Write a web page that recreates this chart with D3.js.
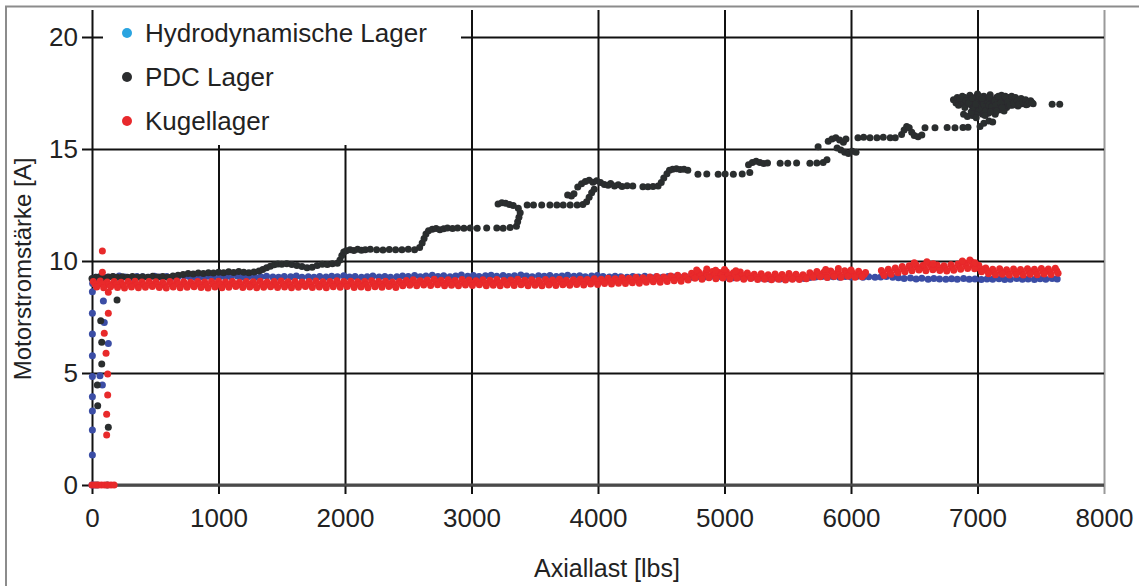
<!DOCTYPE html>
<html>
<head>
<meta charset="utf-8">
<script src="https://cdn.jsdelivr.net/npm/d3@7"></script>
<style>
  html, body { margin: 0; padding: 0; background: #fff; }
  svg { display: block; font-family: "Liberation Sans", Arial, sans-serif; }
</style>
</head>
<body>
<svg id="chart" width="1139" height="586"></svg>
<script>
// Axis ticks
const xTicks = [0, 1000, 2000, 3000, 4000, 5000, 6000, 7000, 8000];
const yTicks = [0, 5, 10, 15, 20];

// Series names and colours (legend colour, marker colour)
const seriesNames = ["Hydrodynamische Lager", "PDC Lager", "Kugellager"];
const legendColors = ["#2aa4e0", "#2b2d2f", "#e8292c"];
const markerColors = ["#3a4da5", "#2b2d2f", "#e8292c"];

// Hydrodynamische Lager: [Axiallast lbs, Motorstrom A]
const hydroPoints = [
  [0,0],[15,0],[3,1.34],[3,2.46],[3,3.30],[3,3.94],[3,4.84],[3,5.77],[3,6.74],[3,7.67],[3,8.63],
  [90,8.21],[97,7.25],[129,6.32],[63,4.88],[82,4.46],[5,9.0],[10,9.12],
  [30,9.28],[75,9.31],[120,9.27],[170,9.30],[215,9.33],[260,9.29],[310,9.26],[355,9.31],[400,9.30],[450,9.27],
  [495,9.32],[540,9.29],[590,9.31],[635,9.27],[680,9.30],[730,9.33],[775,9.29],[820,9.26],[870,9.30],[915,9.32],
  [960,9.28],[1010,9.31],[1055,9.27],[1100,9.30],[1150,9.33],[1195,9.29],[1240,9.31],[1290,9.28],[1335,9.30],
  [1380,9.32],[1430,9.29],[1475,9.27],[1520,9.31],[1570,9.30],[1615,9.33],[1660,9.28],[1710,9.30],[1755,9.27],
  [1800,9.31],[1850,9.29],[1895,9.32],[1940,9.30],[1990,9.34],[2035,9.29],[2080,9.31],[2130,9.28],[2175,9.30],
  [2220,9.33],[2270,9.29],[2315,9.31],[2360,9.27],[2410,9.30],[2455,9.33],[2500,9.31],[2550,9.35],[2595,9.30],
  [2640,9.33],[2690,9.36],[2735,9.31],[2780,9.34],[2830,9.30],[2875,9.33],[2920,9.37],[2970,9.32],[3015,9.35],
  [3060,9.31],[3110,9.34],[3155,9.36],[3200,9.32],[3250,9.35],[3295,9.31],[3340,9.34],[3390,9.37],[3435,9.33],
  [3480,9.30],[3530,9.34],[3575,9.32],[3620,9.35],[3670,9.31],[3715,9.33],[3760,9.36],[3810,9.32],[3855,9.34],
  [3900,9.30],[3950,9.33],[3995,9.35],[4040,9.31],[4090,9.29],[4135,9.32],[4180,9.30],[4230,9.27],[4275,9.31],
  [4320,9.29],[4370,9.32],[4415,9.28],[4460,9.30],[4510,9.27],[4555,9.31],[4600,9.29],[4650,9.26],[4695,9.30],
  [4740,9.28],[4790,9.31],[4835,9.27],[4880,9.29],[4930,9.26],[4975,9.30],[5020,9.28],[5070,9.25],[5115,9.29],
  [5160,9.27],[5210,9.24],[5255,9.27],[5300,9.23],[5350,9.21],[5395,9.24],[5440,9.20],[5490,9.23],[5535,9.21],
  [5580,9.24],[5630,9.22],[5675,9.26],[5720,9.29],[5770,9.31],[5815,9.28],[5860,9.30],[5910,9.27],[5955,9.31],
  [6000,9.29],[6050,9.32],[6095,9.28],[6140,9.30],[6190,9.27],[6235,9.29],[6280,9.31],[6330,9.27],[6375,9.25],
  [6420,9.22],[6470,9.24],[6515,9.20],[6560,9.23],[6610,9.19],[6655,9.22],[6700,9.20],[6750,9.18],[6795,9.21],
  [6840,9.19],[6890,9.22],[6935,9.18],[6980,9.20],[7030,9.17],[7075,9.20],[7120,9.18],[7170,9.21],[7215,9.17],
  [7260,9.19],[7310,9.22],[7355,9.18],[7400,9.20],[7450,9.17],[7495,9.21],[7540,9.19],[7590,9.22],[7630,9.20]
];

// PDC Lager
const pdcPoints = [
  [198,8.26],[69,7.33],[77,6.37],[77,5.4],[42,4.46],[45,3.54],[129,2.58],[40,0],[120,0],
  [0,9.22],[30,9.27],[60,9.30],[95,9.25],[130,9.29],[165,9.31],[200,9.27],[240,9.30],[280,9.28],[320,9.31],
  [360,9.27],[400,9.30],[440,9.28],[480,9.32],[520,9.29],[560,9.31],[600,9.28],[640,9.33],[680,9.36],[720,9.40],
  [760,9.44],[800,9.42],[840,9.46],[880,9.44],[920,9.48],[960,9.46],[1000,9.50],[1040,9.48],[1080,9.52],
  [1120,9.49],[1160,9.53],[1200,9.50],[1240,9.48],[1280,9.51],[1320,9.55],[1350,9.62],[1380,9.70],[1410,9.77],
  [1440,9.83],[1470,9.87],[1500,9.85],[1540,9.88],[1580,9.84],[1620,9.80],[1660,9.76],[1700,9.70],[1740,9.72],
  [1780,9.80],[1820,9.86],[1860,9.84],[1900,9.88],[1940,9.90],[1960,10.05],[1975,10.25],[1990,10.40],
  [2010,10.46],[2040,10.50],[2070,10.47],[2100,10.52],[2130,10.48],[2160,10.50],[2200,10.53],[2250,10.50],
  [2300,10.49],[2350,10.51],[2400,10.50],[2450,10.50],[2500,10.52],[2550,10.50],[2590,10.60],[2610,10.80],
  [2625,11.00],[2640,11.20],[2660,11.35],[2690,11.42],[2720,11.45],[2750,11.40],[2780,11.44],[2810,11.47],
  [2850,11.45],[2890,11.47],[2940,11.46],[2990,11.47],[3045,11.46],[3120,11.47],[3200,11.47],[3250,11.46],
  [3305,11.50],[3355,11.55],[3365,11.75],[3375,11.95],[3385,12.15],[3370,12.35],[3210,12.55],[3240,12.60],
  [3270,12.58],[3300,12.52],[3330,12.48],[3440,12.50],[3490,12.50],[3555,12.50],[3620,12.50],[3675,12.50],
  [3725,12.50],[3780,12.50],[3835,12.50],[3880,12.52],[3910,12.65],[3930,12.85],[3950,13.05],[3970,13.20],
  [3760,12.95],[3790,12.90],[3810,13.00],[3840,13.30],[3870,13.45],[3900,13.55],[3930,13.60],[3960,13.52],
  [3990,13.58],[4020,13.50],[4050,13.42],[4080,13.38],[4100,13.46],[4130,13.35],[4160,13.40],[4190,13.33],
  [4230,13.36],[4275,13.35],[4355,13.32],[4395,13.32],[4435,13.33],[4475,13.35],[4500,13.50],[4520,13.70],
  [4545,13.90],[4565,14.05],[4590,14.10],[4620,14.12],[4650,14.08],[4680,14.10],[4710,14.05],[4790,13.87],
  [4860,13.88],[4950,13.87],[5005,13.88],[5070,13.87],[5140,13.88],[5200,13.95],[5190,14.30],[5220,14.40],
  [5250,14.45],[5280,14.40],[5310,14.35],[5340,14.38],[5440,14.36],[5500,14.36],[5570,14.37],[5675,14.36],
  [5730,14.37],[5780,14.40],[5810,14.52],[5740,15.10],[5820,15.35],[5850,15.45],[5880,15.50],[5910,15.40],
  [5940,15.30],[5960,15.45],[5890,15.05],[5920,14.95],[5950,14.85],[5980,14.80],[6010,14.90],[6040,14.85],
  [6055,15.50],[6100,15.52],[6150,15.50],[6205,15.50],[6255,15.52],[6310,15.50],[6350,15.50],[6400,15.65],
  [6420,15.85],[6440,16.00],[6460,15.95],[6480,15.75],[6500,15.60],[6530,15.55],[6560,15.62],[6585,15.95],
  [6664,15.95],[6760,15.96],[6822,15.95],[6885,15.96],[6925,15.97],[7020,16.00],[7050,16.15],[7090,16.25],
  [7120,16.20],
  [6810,17.20],[6830,17.05],[6850,16.95],[6870,17.15],[6890,17.00],[6900,16.85],[6920,17.25],[6940,17.40],
  [6950,17.10],[6960,16.90],[6970,16.70],[6980,17.30],[7000,17.45],[7010,17.15],[7020,16.95],[7030,16.75],
  [7040,16.55],[7050,17.35],[7060,17.05],[7075,16.85],[7085,16.60],[7100,17.42],[7110,17.20],[7120,17.00],
  [7130,16.80],[7140,16.55],[7150,17.30],[7160,17.10],[7175,16.90],[7190,17.40],[7200,17.20],[7215,17.00],
  [7230,16.85],[7245,17.30],[7260,17.12],[7275,16.95],[7290,17.25],[7305,17.05],[7320,16.92],[7335,17.18],
  [7350,17.02],[7370,17.12],[7385,16.98],[7400,17.08],[7420,17.15],[7440,17.02],[6890,16.55],[6920,16.45],
  [6960,16.50],[7000,16.62],[6990,16.40],[7030,17.00],[7070,17.25],[7180,16.75],[7210,16.70],[6940,17.00],
  [6900,17.30],[7080,17.10],
  [6840,17.30],[6860,17.25],[6880,17.35],[6910,17.15],[6930,17.05],[6960,17.25],[6990,17.05],[7015,17.35],
  [7035,17.25],[7045,16.90],[7065,16.70],[7090,16.95],[7095,17.30],[7115,16.90],[7135,17.15],[7145,16.95],
  [7165,17.35],[7185,17.05],[7195,16.85],[7220,17.35],[7240,17.10],[7255,16.95],[7270,17.35],[7285,17.05],
  [7300,17.30],[7315,17.15],[7330,17.00],[7345,17.25],[7360,17.10],[7380,17.20],[7395,17.00],[7410,17.10],
  [7430,17.08],[6950,16.65],[6975,16.85],[7010,16.80],[7060,16.50],[7105,16.65],[7150,16.70],[7000,16.95],
  [6985,17.00],[7590,17.00],[7650,17.00]
];

// Kugellager
const ballPoints = [
  [0,0],[25,0],[50,0],[75,0],[100,0],[125,0],[150,0],[175,0],
  [82,10.45],[82,9.5],[129,8.6],[129,7.67],[97,6.77],[111,5.88],[124,4.96],[124,4.02],[116,3.16],[116,2.23],
  [10,9.08],[65,9.11],[120,9.06],[175,9.09],[230,9.05],[285,9.08],[340,9.10],[395,9.06],[450,9.09],[505,9.07],
  [560,9.04],[615,9.08],[670,9.11],[725,9.07],[780,9.05],[835,9.09],[890,9.06],[945,9.08],[1000,9.10],[1055,9.06],
  [1110,9.08],[1165,9.05],[1220,9.09],[1275,9.07],[1330,9.10],[1385,9.06],[1440,9.08],[1495,9.11],[1550,9.07],
  [1605,9.09],[1660,9.06],[1715,9.08],[1770,9.11],[1825,9.07],[1880,9.09],[1935,9.12],[1990,9.08],[2045,9.10],
  [2100,9.07],[2155,9.09],[2210,9.12],[2265,9.08],[2320,9.10],[2375,9.06],[2430,9.09],[2485,9.13],[2540,9.16],
  [2595,9.12],[2650,9.15],[2705,9.18],[2760,9.14],[2815,9.16],[2870,9.13],[2925,9.17],[2980,9.15],[3035,9.12],
  [3090,9.16],[3145,9.14],[3200,9.17],[3255,9.13],[3310,9.15],[3365,9.18],[3420,9.14],[3475,9.16],[3530,9.13],
  [3585,9.17],[3640,9.15],[3695,9.18],[3750,9.14],[3805,9.16],[3860,9.19],[3915,9.17],[3970,9.21],[4025,9.19],
  [4080,9.23],[4135,9.21],[4190,9.25],[4245,9.23],[4300,9.27],[4355,9.25],[4410,9.29],[4465,9.31],[4520,9.29],
  [4575,9.33],[4630,9.36],[4685,9.34],[4740,9.45],[4795,9.51],[4850,9.47],[4905,9.53],[4960,9.49],[5015,9.52],
  [5070,9.48],[5125,9.51],[5180,9.46],[5235,9.41],[5290,9.43],[5345,9.39],[5400,9.42],[5455,9.40],[5510,9.44],
  [5565,9.41],[5620,9.39],[5675,9.48],[5730,9.53],[5785,9.50],[5840,9.55],[5895,9.52],[5950,9.56],[6005,9.51],
  [6060,9.54],[6115,9.49],[6240,9.58],[6295,9.63],[6350,9.69],[6405,9.75],[6460,9.79],[6515,9.83],[6570,9.81],
  [6625,9.85],[6680,9.82],[6735,9.79],[6790,9.83],[6845,9.87],[6900,9.91],[6955,9.96],[7010,9.81],[7065,9.69],
  [7120,9.63],[7175,9.65],[7230,9.61],[7285,9.64],[7340,9.62],[7395,9.65],[7450,9.63],[7505,9.66],[7560,9.64],
  [7615,9.68],
  [24,8.96],[79,8.97],[134,8.95],[189,8.96],[244,8.93],[299,8.96],[354,8.95],[409,8.94],[464,8.97],[519,8.95],
  [574,8.92],[629,8.96],[684,8.96],[739,8.95],[794,8.95],[849,8.96],[904,8.93],[959,8.96],[1014,8.95],[1069,8.95],
  [1124,8.97],[1179,8.94],[1234,8.96],[1289,8.94],[1344,8.96],[1399,8.95],[1454,8.95],[1509,8.97],[1564,8.94],
  [1619,8.96],[1674,8.96],[1729,8.95],[1784,8.97],[1839,8.94],[1894,8.97],[1949,8.97],[2004,8.97],[2059,8.96],
  [2114,8.95],[2169,8.95],[2224,8.98],[2279,8.96],[2334,8.98],[2389,8.94],[2444,8.99],[2499,9.03],[2554,9.03],
  [2609,9.04],[2664,9.04],[2719,9.06],[2774,9.02],[2829,9.04],[2884,9.01],[2939,9.05],[2994,9.03],[3049,9.03],
  [3104,9.03],[3159,9.03],[3214,9.03],[3269,9.03],[3324,9.03],[3379,9.06],[3434,9.02],[3489,9.04],[3544,9.01],
  [3599,9.05],[3654,9.03],[3709,9.06],[3764,9.03],[3819,9.06],[3874,9.06],[3929,9.07],[3984,9.08],[4039,9.09],
  [4094,9.10],[4149,9.11],[4204,9.12],[4259,9.13],[4314,9.14],[4369,9.15],[4424,9.18],[4479,9.18],[4534,9.21],
  [4589,9.24],[4644,9.23],[4699,9.26],[4754,9.34],[4809,9.35],[4864,9.36],[4919,9.37],[4974,9.36],[5029,9.36],
  [5084,9.36],[5139,9.35],[5194,9.34],[5249,9.29],[5304,9.31],[5359,9.28],[5414,9.30],[5469,9.28],[5524,9.31],
  [5579,9.29],[5634,9.30],[5689,9.38],[5744,9.42],[5799,9.38],[5854,9.43],[5909,9.40],[5964,9.44],[6019,9.39],
  [6074,9.42],[6104,9.40],[6251,9.47],[6306,9.52],[6361,9.58],[6416,9.63],[6471,9.68],[6526,9.72],[6581,9.69],
  [6636,9.73],[6691,9.70],[6746,9.67],[6801,9.71],[6856,9.75],[6911,9.79],[6966,9.80],[7021,9.67],[7076,9.56],
  [7131,9.51],[7186,9.53],[7241,9.49],[7296,9.52],[7351,9.50],[7406,9.53],[7461,9.51],[7516,9.54],[7571,9.52],
  [7626,9.56],
  [37,8.84],[92,8.81],[147,8.85],[202,8.82],[257,8.80],[312,8.84],[367,8.81],[422,8.83],[477,8.86],[532,8.82],
  [587,8.80],[642,8.84],[697,8.81],[752,8.83],[807,8.85],[862,8.82],[917,8.80],[972,8.84],[1027,8.81],[1082,8.83],
  [1137,8.86],[1192,8.82],[1247,8.84],[1302,8.81],[1357,8.83],[1412,8.85],[1467,8.82],[1522,8.84],[1577,8.81],
  [1632,8.83],[1687,8.86],[1742,8.82],[1797,8.84],[1852,8.81],[1907,8.85],[1962,8.83],[2017,8.86],[2072,8.82],
  [2127,8.84],[2182,8.81],[2237,8.85],[2292,8.83],[2347,8.86],[2402,8.82],[2457,8.89],[2512,8.92],[2567,8.90],
  [2622,8.93],[2677,8.91],[2732,8.94],[2787,8.90],[2842,8.92],[2897,8.89],[2952,8.93],[3007,8.91],[3062,8.94],
  [3117,8.90],[3172,8.92],[3227,8.89],[3282,8.93],[3337,8.91],[3392,8.94],[3447,8.90],[3502,8.92],[3557,8.89],
  [3612,8.93],[3667,8.91],[3722,8.94],[3777,8.92],[3832,8.95],[3887,8.93],[3942,8.97],[3997,8.95],[4052,8.99],
  [4107,8.97],[4162,9.01],[4217,8.99],[4272,9.03],[4327,9.01],[4382,9.05],[4437,9.07],[4492,9.05],[4547,9.09],
  [4602,9.12],[4657,9.10],[4712,9.15],[4767,9.23],[4822,9.19],[4877,9.25],[4932,9.21],[4987,9.24],[5042,9.20],
  [5097,9.23],[5152,9.19],[5207,9.22],[5262,9.17],[5317,9.19],[5372,9.16],[5427,9.18],[5482,9.15],[5537,9.19],
  [5592,9.17],[5647,9.21],[5702,9.27],[5757,9.30],[5812,9.26],[5867,9.31],[5922,9.28],[5977,9.32],[6032,9.27],
  [6087,9.30],[6262,9.35],[6317,9.41],[6372,9.47],[6427,9.52],[6482,9.57],[6537,9.60],[6592,9.57],[6647,9.61],
  [6702,9.58],[6757,9.55],[6812,9.59],[6867,9.63],[6922,9.67],[6977,9.65],[7032,9.52],[7087,9.43],[7142,9.39],
  [7197,9.41],[7252,9.37],[7307,9.40],[7362,9.38],[7417,9.41],[7472,9.39],[7527,9.42],[7582,9.40],[7637,9.45],
  [4780,9.60],[4860,9.64],[4930,9.59],[5000,9.62],[5090,9.57],[5800,9.62],[5900,9.66],[6000,9.60],
  [6500,9.92],[6600,9.97],[6650,9.88],[6880,10.00],[6940,10.04],[6980,9.92]
];

const svg = d3.select("#chart");
const W = 1139, H = 586;

const x = d3.scaleLinear().domain([0, 8000]).range([92, 1104]);
const y = d3.scaleLinear().domain([0, 20]).range([485, 37]);

// Soft edge for the markers
const defs = svg.append("defs");
defs.append("filter").attr("id", "soft")
  .attr("x", "-5%").attr("y", "-5%").attr("width", "110%").attr("height", "110%")
  .append("feGaussianBlur").attr("stdDeviation", 0.5);

svg.append("rect").attr("width", W).attr("height", H).attr("fill", "#fff");

// Outer frame (top and left edges)
svg.append("path")
  .attr("d", `M6,${H} V6.5 H${W}`)
  .attr("fill", "none").attr("stroke", "#8c8c8c").attr("stroke-width", 2);

const gridTop = 10, gridBottom = 494;

// Vertical grid lines with tick marks below the axis
const vGrid = svg.append("g")
  .attr("transform", `translate(0,${gridBottom})`)
  .call(d3.axisBottom(x).tickValues(xTicks).tickSize(-(gridBottom - gridTop)).tickFormat(""));
vGrid.select(".domain").remove();
vGrid.selectAll(".tick line")
  .attr("stroke", d => d === 8000 ? "#9a9a9a" : "#111")
  .attr("stroke-width", 2);

// Horizontal grid lines, starting with the tick mark left of the axis
const hGrid = svg.append("g")
  .attr("transform", `translate(${x(8000)},0)`)
  .call(d3.axisLeft(y).tickValues(yTicks).tickSize(x(8000) - 82).tickFormat(""));
hGrid.select(".domain").remove();
hGrid.selectAll(".tick line")
  .attr("stroke", "#111")
  .attr("stroke-width", 2);

// x-axis baseline
svg.append("line")
  .attr("x1", x(0)).attr("x2", x(8000)).attr("y1", y(0)).attr("y2", y(0))
  .attr("stroke", "#4a4a4a").attr("stroke-width", 3);

// Legend box (covers the grid behind it)
svg.append("rect")
  .attr("x", 103).attr("y", 9).attr("width", 358).attr("height", 136)
  .attr("fill", "#fff");

// Tick labels
const xLab = svg.append("g")
  .attr("transform", `translate(0,${y(0)})`)
  .call(d3.axisBottom(x).tickValues(xTicks).tickSize(0).tickPadding(24).tickFormat(d3.format("d")));
xLab.select(".domain").remove();
xLab.selectAll("text").attr("font-size", 26).attr("fill", "#222")
  .attr("font-family", "'Liberation Sans', Arial, sans-serif");

const yLab = svg.append("g")
  .attr("transform", `translate(${x(0)},0)`)
  .call(d3.axisLeft(y).tickValues(yTicks).tickSize(0).tickPadding(14).tickFormat(d3.format("d")));
yLab.select(".domain").remove();
yLab.selectAll("text").attr("font-size", 26).attr("fill", "#222")
  .attr("font-family", "'Liberation Sans', Arial, sans-serif");

// Axis titles
svg.append("text")
  .attr("x", 607).attr("y", 577)
  .attr("text-anchor", "middle").attr("font-size", 25).attr("fill", "#222")
  .text("Axiallast [lbs]");
svg.append("text")
  .attr("transform", "translate(31,269) rotate(-90)")
  .attr("text-anchor", "middle").attr("font-size", 24).attr("fill", "#222")
  .text("Motorstromstärke [A]");

// Data points
const plot = svg.append("g").attr("filter", "url(#soft)");
const seriesData = [hydroPoints, pdcPoints, ballPoints];
seriesData.forEach((pts, i) => {
  plot.append("g")
    .selectAll("circle")
    .data(pts)
    .join("circle")
    .attr("cx", d => x(d[0]))
    .attr("cy", d => y(d[1]))
    .attr("r", 3.5)
    .attr("fill", markerColors[i]);
});

// Legend entries
const legendRows = [33, 77, 121];
const legend = svg.append("g");
seriesNames.forEach((name, i) => {
  legend.append("circle")
    .attr("cx", 127).attr("cy", legendRows[i]).attr("r", 5)
    .attr("fill", legendColors[i]);
  legend.append("text")
    .attr("x", 145).attr("y", legendRows[i] + 9)
    .attr("font-size", 26).attr("fill", "#222")
    .text(name);
});
</script>
</body>
</html>
